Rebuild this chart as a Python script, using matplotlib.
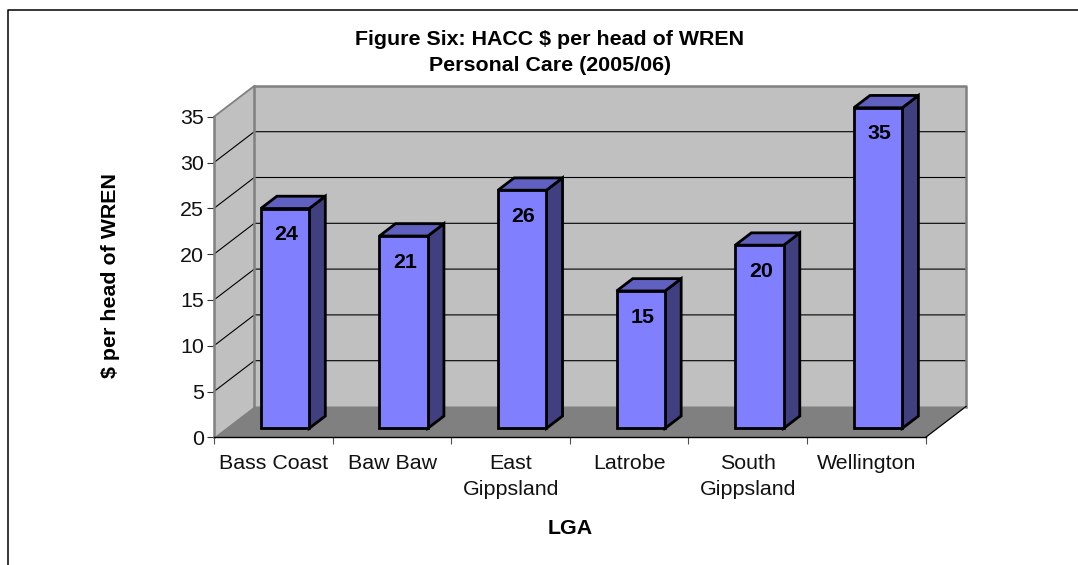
import matplotlib
matplotlib.use("Agg")
import matplotlib.pyplot as plt
from matplotlib.lines import Line2D
from matplotlib.patches import Polygon
from matplotlib.transforms import Affine2D

plt.rcParams['font.family'] = ['Liberation Sans', 'DejaVu Sans']

categories = ["Bass Coast", "Baw Baw", "East\nGippsland", "Latrobe", "South\nGippsland", "Wellington"]
values = [24, 21, 26, 15, 20, 35]
y_ticks = [0, 5, 10, 15, 20, 25, 30, 35]

W, H = 1078, 565
FS = 15.4
fig = plt.figure(figsize=(W / 100, H / 100), dpi=100, facecolor="white")

# Front plane of the oblique chart box, in figure pixels
left, right, bottom, top = 214.0, 925.7, 437.3, 116.7
ax = fig.add_axes([left / W, 1 - bottom / H, (right - left) / W, (bottom - top) / H])
ax.set_xlim(0, len(values))
ax.set_ylim(0, y_ticks[-1])
ax.patch.set_visible(False)
for s in ("top", "right"):
    ax.spines[s].set_visible(False)
ax.spines["left"].set_color("#808080")
ax.spines["left"].set_linewidth(1.8)
ax.spines["bottom"].set_color("black")
ax.spines["bottom"].set_linewidth(1.0)

# Depth offsets in display pixels, and where the bars sit within the depth
DEPTH = (40.3, 30.8)
BAR_NEAR = 0.29
BAR_FAR = 0.69


def shifted(frac):
    return ax.transData + Affine2D().translate(DEPTH[0] * frac, DEPTH[1] * frac)


def project(x, y, d):
    return shifted(d).transform((x, y))


def face(points, **kw):
    """Filled polygon whose vertices are (x, value, depth fraction)."""
    verts = [project(*p) for p in points]
    ax.add_artist(Polygon(verts, closed=True, transform=None, clip_on=False, **kw))


def path(points, **kw):
    """Open line whose vertices are (x, value, depth fraction)."""
    verts = [project(*p) for p in points]
    ax.add_artist(Line2D([v[0] for v in verts], [v[1] for v in verts],
                         transform=None, clip_on=False, **kw))


n = len(values)
ymax = y_ticks[-1]

# Back wall, side wall and floor
face([(0, 0, 1), (n, 0, 1), (n, ymax, 1), (0, ymax, 1)],
     facecolor="#C0C0C0", edgecolor="none", zorder=1)
face([(0, 0, 0), (0, 0, 1), (0, ymax, 1), (0, ymax, 0)],
     facecolor="#C0C0C0", edgecolor="none", zorder=1.1)

# Gridlines across both walls; the top one is part of the wall outline
for t in y_ticks[1:-1]:
    path([(0, t, 0), (0, t, 1), (n, t, 1)], color="black", linewidth=0.8, zorder=1.2)
path([(0, 0, 1), (0, ymax, 1), (n, ymax, 1), (n, 0, 1)],
     color="#808080", linewidth=1.8, zorder=1.25)
path([(0, ymax, 0), (0, ymax, 1)], color="#808080", linewidth=1.3, zorder=1.25)

face([(0, 0, 0), (n, 0, 0), (n, 0, 1), (0, 0, 1)],
     facecolor="#808080", edgecolor="none", zorder=1.3)
path([(n, 0, 0), (n, 0, 1)], color="black", linewidth=0.9, zorder=1.35)

# Bars: side, top and front faces, with the value on the front
bar_w = 0.408
edge = dict(edgecolor="black", linewidth=2.0, joinstyle="miter")
for i, v in enumerate(values):
    x0 = i + 0.5 - bar_w / 2
    x1 = i + 0.5 + bar_w / 2
    face([(x1, 0, BAR_NEAR), (x1, 0, BAR_FAR), (x1, v, BAR_FAR), (x1, v, BAR_NEAR)],
         facecolor="#404080", zorder=3, **edge)
    face([(x0, v, BAR_NEAR), (x1, v, BAR_NEAR), (x1, v, BAR_FAR), (x0, v, BAR_FAR)],
         facecolor="#6060C0", zorder=3, **edge)
    face([(x0, 0, BAR_NEAR), (x1, 0, BAR_NEAR), (x1, v, BAR_NEAR), (x0, v, BAR_NEAR)],
         facecolor="#8080FF", zorder=3.1, **edge)
    ax.annotate(str(v), xy=(i + 0.5, v), xycoords=shifted(BAR_NEAR),
                xytext=(1.0, -18.8), textcoords="offset points", ha="center", va="center",
                fontsize=FS, fontweight="bold", color="black", zorder=4,
                annotation_clip=False)

# Axis ticks and labels
ax.set_yticks(y_ticks)
ax.set_xticks(range(n + 1))
ax.set_xticklabels([])
ax.tick_params(axis="y", length=5, width=0.8, color="#303030", labelsize=FS, pad=2.2, labelcolor="#111111")
ax.tick_params(axis="x", length=5, width=0.8, color="#505050")
for i, c in enumerate(categories):
    ax.annotate(c, xy=(i + 0.5, 0), xycoords="data", xytext=(0.3, -12.2), textcoords="offset points",
                ha="center", va="top", fontsize=FS, color="#111111", linespacing=1.42,
                annotation_clip=False)

fig.text(570 / W, 1 - 528 / H, "LGA", ha="center", va="center", fontsize=FS, fontweight="bold")
fig.text(111 / W, 1 - 276 / H, r"\$ per head of WREN", rotation=90, ha="center", va="center",
         fontsize=FS, fontweight="bold")
fig.text(550 / W, 1 - 52.5 / H, "Figure Six: HACC \\$ per head of WREN\nPersonal Care (2005/06)",
         ha="center", va="center", fontsize=FS, fontweight="bold", linespacing=1.5)

# Chart area border: top and left edges only
fig.add_artist(Line2D([7.5 / W, 7.5 / W, 1], [0, 1 - 9.5 / H, 1 - 9.5 / H],
                      transform=fig.transFigure, color="black", linewidth=1.1))

fig.savefig("out.png", dpi=100)
